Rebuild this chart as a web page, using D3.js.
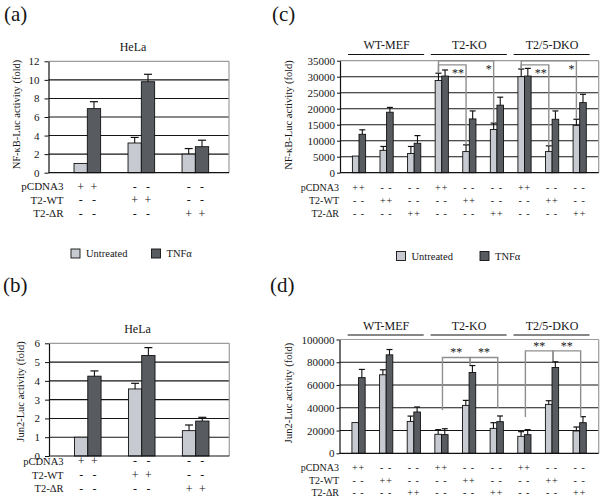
<!DOCTYPE html>
<html><head><meta charset="utf-8">
<script src="https://cdn.jsdelivr.net/npm/d3@7"></script>
<style>
body{margin:0;background:#fff}
svg{display:block}
text{font-family:"Liberation Serif","Times New Roman",serif;fill:#161616}
</style>
</head><body>
<svg id="chart" width="604" height="503"></svg>
<script>
// ---------- data ----------
const series = ["Untreated", "TNFα"];
const seriesColors = ["#c7cbd1", "#585c61"];
const rowLabels = ["pCDNA3", "T2-WT", "T2-ΔR"];

// HeLa panels (a), (b)
const helaGroups = ["pCDNA3", "T2-WT", "T2-ΔR"];
const helaSigns = [["+", "-", "-"], ["-", "+", "-"], ["-", "-", "+"]]; // rows x groups
const aUntreated = [1.0, 3.2, 2.0];
const aUntreatedErr = [0, 0.6, 0.6];
const aTnf = [6.9, 9.8, 2.8];
const aTnfErr = [0.75, 0.8, 0.7];
const aTicks = [0, 2, 4, 6, 8, 10, 12];
const bUntreated = [1.0, 3.57, 1.35];
const bUntreatedErr = [0, 0.3, 0.3];
const bTnf = [4.25, 5.35, 1.86];
const bTnfErr = [0.28, 0.42, 0.2];
const bTicks = [0, 1, 2, 3, 4, 5, 6];

// MEF panels (c), (d)
const cellLines = ["WT-MEF", "T2-KO", "T2/5-DKO"];
const mefGroups = ["WT-pc", "WT-wt", "WT-dr", "KO-pc", "KO-wt", "KO-dr", "DKO-pc", "DKO-wt", "DKO-dr"];
const mefSigns = [
  ["++", "- -", "- -", "++", "- -", "- -", "++", "- -", "- -"],
  ["- -", "++", "- -", "- -", "++", "- -", "- -", "++", "- -"],
  ["- -", "- -", "++", "- -", "- -", "++", "- -", "- -", "++"]
];
const cUntreated = [5200, 7000, 6000, 28800, 6600, 13500, 30000, 6600, 14800];
const cUntreatedErr = [0, 1200, 2200, 2300, 2100, 2000, 2400, 1800, 1900];
const cTnf = [12000, 18900, 9200, 30200, 16800, 21100, 30200, 16700, 21900];
const cTnfErr = [1400, 1500, 2400, 1900, 2500, 2500, 2400, 2600, 2600];
const cTicks = [0, 5000, 10000, 15000, 20000, 25000, 30000, 35000];
const dUntreated = [27000, 69000, 28000, 16700, 42100, 21900, 14900, 43000, 19600];
const dUntreatedErr = [0, 4400, 4700, 4100, 4400, 5000, 4100, 3200, 3500];
const dTnf = [66500, 86500, 36300, 16400, 71000, 27800, 16400, 75400, 26900];
const dTnfErr = [7200, 4700, 4400, 5200, 6100, 5000, 4400, 5000, 5300];
const dTicks = [0, 20000, 40000, 60000, 80000, 100000];

// significance brackets
const cBracketFrom = [3, 3, 6, 6];
const cBracketTo = [4, 5, 7, 8];
const cBracketLevel = [33700, 35000, 33700, 35000];
const cBracketFromEnd = [31300, 31300, 32500, 32500];
const cBracketToEnd = [8800, 15600, 8400, 16800];
const cBracketLabel = ["**", "*", "**", "*"];
const dBracketFrom = [3, 4, 6, 7];
const dBracketTo = [4, 5, 7, 8];
const dBracketLevel = [84200, 84200, 90000, 90000];
const dBracketFromEnd = [38000, 78000, 32000, 81000];
const dBracketToEnd = [78000, 40000, 81000, 32000];
const dBracketLabel = ["**", "**", "**", "**"];

// ---------- drawing ----------
const svg = d3.select("#chart");

function panel(o) {
  const g = svg.append("g");
  const x0 = d3.scaleBand().domain(o.groups).range([o.left, o.right])
    .paddingInner(0).paddingOuter(o.pOuter).align(o.align);
  const x1 = d3.scaleBand().domain(series).range([0, x0.bandwidth()])
    .paddingInner(0).paddingOuter(o.barPad);
  const y = d3.scaleLinear().domain([0, d3.max(o.ticks)]).range([o.bottom, o.top]);
  const maxT = d3.max(o.ticks);

  // gridlines
  g.selectAll("line.grid").data(o.ticks.filter(t => t > 0)).join("line")
    .attr("x1", o.left).attr("x2", o.right)
    .attr("y1", d => y(d)).attr("y2", d => y(d))
    .attr("stroke", d => d === maxT ? "#9c9c9c" : "#151515")
    .attr("stroke-width", d => d === maxT ? 1.2 : 1.1);
  g.append("line").attr("x1", o.right).attr("x2", o.right)
    .attr("y1", y(maxT)).attr("y2", y(0)).attr("stroke", "#9c9c9c").attr("stroke-width", 1.2);

  // bars
  const data = [];
  o.groups.forEach((grp, i) => {
    data.push({grp, i, s: series[0], v: o.u[i], e: o.uErr[i], c: seriesColors[0]});
    data.push({grp, i, s: series[1], v: o.t[i], e: o.tErr[i], c: seriesColors[1]});
  });
  g.selectAll("rect.bar").data(data).join("rect")
    .attr("x", d => x0(d.grp) + x1(d.s))
    .attr("y", d => y(d.v))
    .attr("width", x1.bandwidth())
    .attr("height", d => y(0) - y(d.v))
    .attr("fill", d => d.c).attr("stroke", "#111").attr("stroke-width", 0.9);

  // error bars
  const eb = g.selectAll("g.err").data(data.filter(d => d.e > 0)).join("g");
  const cx = d => x0(d.grp) + x1(d.s) + x1.bandwidth() / 2;
  eb.append("line").attr("x1", cx).attr("x2", cx)
    .attr("y1", d => y(d.v)).attr("y2", d => y(d.v + d.e))
    .attr("stroke", "#111").attr("stroke-width", 1.1);
  eb.append("line").attr("x1", d => cx(d) - o.cap).attr("x2", d => cx(d) + o.cap)
    .attr("y1", d => y(d.v + d.e)).attr("y2", d => y(d.v + d.e))
    .attr("stroke", "#111").attr("stroke-width", 1.2);

  // axes
  const ax = g.append("g").attr("transform", `translate(${o.left},0)`)
    .call(d3.axisLeft(y).tickValues(o.ticks).tickFormat(d3.format("d"))
      .tickSize(o.tickSize).tickPadding(o.tickPad).tickSizeOuter(0));
  ax.attr("font-family", null);
  ax.select(".domain").attr("stroke", "#111").attr("stroke-width", 1.2);
  ax.selectAll(".tick line").attr("stroke", "#111");
  ax.selectAll(".tick text").attr("font-size", o.tickFont).attr("fill", "#161616");
  g.append("line").attr("x1", o.left).attr("x2", o.right)
    .attr("y1", y(0)).attr("y2", y(0)).attr("stroke", "#111").attr("stroke-width", 1.2);

  // y title
  g.append("text").attr("transform", `translate(${o.titleX},${o.titleY}) rotate(-90)`)
    .attr("text-anchor", "middle").attr("dominant-baseline", "middle")
    .attr("font-size", 10.5).text(o.yTitle);

  // row labels and signs
  rowLabels.forEach((lab, r) => {
    g.append("text").attr("x", o.rowLabelX).attr("y", o.rowY[r]).attr("dy", "0.35em")
      .attr("text-anchor", "end").attr("font-size", o.rowFont).text(lab);
    o.groups.forEach((grp, i) => {
      if (o.pairSigns) {
        g.append("text").attr("x", x0(grp) + x0.bandwidth() / 2).attr("y", o.rowY[r]).attr("dy", "0.35em")
          .attr("text-anchor", "middle").attr("font-size", 10).attr("letter-spacing", 1)
          .text(o.signs[r][i]);
      } else {
        series.forEach(s => {
          g.append("text").attr("x", x0(grp) + x1(s) + x1.bandwidth() / 2).attr("y", o.rowY[r]).attr("dy", "0.35em")
            .attr("text-anchor", "middle").attr("font-size", 12).text(o.signs[r][i]);
        });
      }
    });
  });

  // brackets
  if (o.br) {
    const b = o.br;
    const legX = i => b.onLight
      ? x0(o.groups[i]) + x1(series[0]) + x1.bandwidth() / 2
      : x0(o.groups[i]) + x0.bandwidth() / 2 + 1;
    b.from.forEach((f, k) => {
      const t = b.to[k];
      const p = d3.path();
      p.moveTo(legX(f), y(b.fromEnd[k]));
      p.lineTo(legX(f), y(b.level[k]));
      p.lineTo(legX(t), y(b.level[k]));
      p.lineTo(legX(t), y(b.toEnd[k]));
      g.append("path").attr("d", p.toString()).attr("fill", "none")
        .attr("stroke", "#8f8f8f").attr("stroke-width", 1.4);
      if (b.onLight) {
        g.append("text").attr("x", legX(t) - 2).attr("y", y(b.level[k]) + 12)
          .attr("text-anchor", "end").attr("font-size", 12).text(b.label[k]);
      } else {
        g.append("text").attr("x", (legX(f) + legX(t)) / 2).attr("y", y(b.level[k]) - 1)
          .attr("text-anchor", "middle").attr("font-size", 12).text(b.label[k]);
      }
    });
  }

  // cell line headers
  if (o.headers) {
    o.headers.forEach((h, k) => {
      const mid = x0(o.groups[k * 3 + 1]) + x0.bandwidth() / 2;
      g.append("text").attr("x", mid).attr("y", o.headerY).attr("text-anchor", "middle")
        .attr("font-size", 12).text(h);
      g.append("line").attr("x1", mid - 38.5).attr("x2", mid + 37.5)
        .attr("y1", o.headerY + 5.5).attr("y2", o.headerY + 5.5)
        .attr("stroke", "#111").attr("stroke-width", 1.2);
    });
  }
  return {x0, x1, y};
}

panel({groups: helaGroups, u: aUntreated, uErr: aUntreatedErr, t: aTnf, tErr: aTnfErr, ticks: aTicks,
  left: 48.5, right: 229, top: 61.3, bottom: 172.7, pOuter: 0.171, align: 0.64, barPad: 1.03, cap: 4,
  tickSize: 4, tickPad: 5, tickFont: 11, titleX: 17.5, titleY: 114.5, yTitle: "NF-κB-Luc activity (fold)",
  rowLabelX: 63.5, rowY: [186.5, 200, 213.3], rowFont: 11, signs: helaSigns, pairSigns: false});

panel({groups: helaGroups, u: bUntreated, uErr: bUntreatedErr, t: bTnf, tErr: bTnfErr, ticks: bTicks,
  left: 49, right: 229.3, top: 343.3, bottom: 456, pOuter: 0.171, align: 0.64, barPad: 1.03, cap: 4,
  tickSize: 4, tickPad: 5, tickFont: 11, titleX: 21.5, titleY: 391.5, yTitle: "Jun2-Luc activity (fold)",
  rowLabelX: 63.5, rowY: [461, 475, 488.5], rowFont: 10.5, signs: helaSigns, pairSigns: false});

panel({groups: mefGroups, u: cUntreated, uErr: cUntreatedErr, t: cTnf, tErr: cTnfErr, ticks: cTicks,
  left: 340, right: 598.7, top: 60.7, bottom: 172.7, pOuter: 0.189, align: 0.5, barPad: 1.09, cap: 3,
  tickSize: 3, tickPad: 2, tickFont: 11, titleX: 290, titleY: 115, yTitle: "NF-κB-Luc activity (fold)",
  rowLabelX: 339, rowY: [187.5, 200, 213.3], rowFont: 10, signs: mefSigns, pairSigns: true,
  headers: cellLines, headerY: 49,
  br: {onLight: true, from: cBracketFrom, to: cBracketTo, level: cBracketLevel,
       fromEnd: cBracketFromEnd, toEnd: cBracketToEnd, label: cBracketLabel}});

panel({groups: mefGroups, u: dUntreated, uErr: dUntreatedErr, t: dTnf, tErr: dTnfErr, ticks: dTicks,
  left: 339.5, right: 598.7, top: 339.5, bottom: 453.3, pOuter: 0.189, align: 0.5, barPad: 1.09, cap: 3,
  tickSize: 3, tickPad: 2, tickFont: 11, titleX: 290, titleY: 393, yTitle: "Jun2-Luc activity (fold)",
  rowLabelX: 339, rowY: [467.7, 480, 492.3], rowFont: 10, signs: mefSigns, pairSigns: true,
  headers: cellLines, headerY: 329.5,
  br: {onLight: false, from: dBracketFrom, to: dBracketTo, level: dBracketLevel,
       fromEnd: dBracketFromEnd, toEnd: dBracketToEnd, label: dBracketLabel}});

// HeLa titles
svg.append("text").attr("x", 133).attr("y", 50.5).attr("text-anchor", "middle").attr("font-size", 12).text("HeLa");
svg.append("text").attr("x", 137.5).attr("y", 333).attr("text-anchor", "middle").attr("font-size", 12).text("HeLa");

// panel letters
[["(a)", 4, 21], ["(b)", 3, 292], ["(c)", 272, 21], ["(d)", 270, 292]].forEach(([t, x, yy]) => {
  svg.append("text").attr("x", x).attr("y", yy).attr("font-size", 21).text(t);
});

// legends
function legend(x, y, gap) {
  series.forEach((s, i) => {
    const xx = x + i * gap;
    svg.append("rect").attr("x", xx).attr("y", y - 4.5).attr("width", 9).attr("height", 9)
      .attr("fill", seriesColors[i]).attr("stroke", "#111").attr("stroke-width", 0.9);
    svg.append("text").attr("x", xx + 15).attr("y", y).attr("dy", "0.35em")
      .attr("font-size", 10.5).text(s);
  });
}
legend(71, 253.5, 80.5);
legend(396.5, 256, 83.5);
</script>
</body></html>
